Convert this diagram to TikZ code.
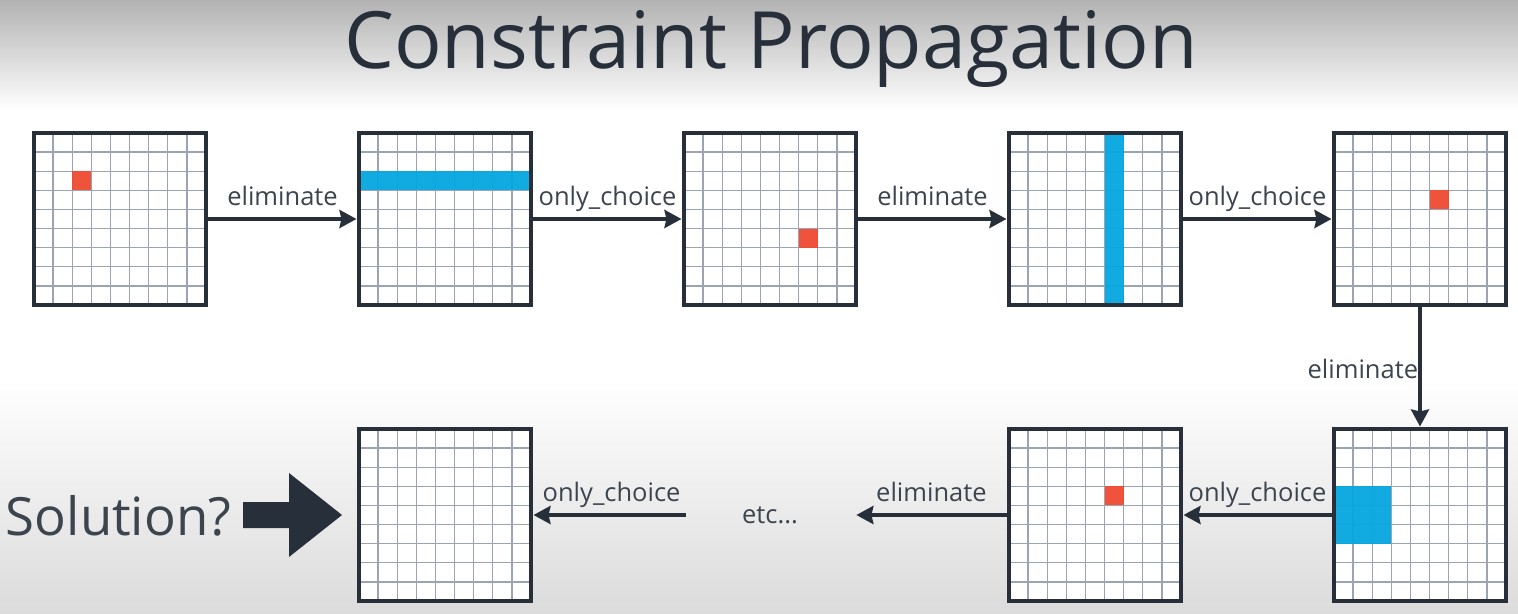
\documentclass[tikz,border=0pt]{standalone}
\usepackage{fontspec}
\setmainfont{Open Sans}
\usepackage{xcolor}
\usetikzlibrary{arrows.meta,positioning,calc}

\definecolor{ink}{HTML}{262F3A}
\definecolor{cellred}{HTML}{F0492F}
\definecolor{cellblue}{HTML}{04A6E0}
\definecolor{cellgrid}{HTML}{9AA4B2}

\newcommand{\cellsz}{0.3822cm}
% thin grid lines of one board
\newcommand{\boardlines}[1]{%
  \foreach \k in {1,...,8}{
    \draw[cellline] ($(#1.south west)+(\k*\cellsz,0)$) -- ($(#1.north west)+(\k*\cellsz,0)$);
    \draw[cellline] ($(#1.south west)+(0,\k*\cellsz)$) -- ($(#1.south east)+(0,\k*\cellsz)$);
  }}
% filled cells: board, column, row, width, height, colour
\newcommand{\hilite}[6]{%
  \fill[#6, fill opacity=0.94] ($(#1.north west)+(#2*\cellsz,-#3*\cellsz)$) rectangle ++(#4*\cellsz,-#5*\cellsz);}

\begin{document}
\begin{tikzpicture}[
  node distance=2.48cm and 3.06cm,
  board/.style={rectangle, fill=white, minimum size=3.44cm,
                inner sep=0pt, outer sep=0pt},
  cellline/.style={cellgrid, line width=0.8pt},
  frame/.style={ink, line width=2.3pt},
  arr/.style={-{Stealth[length=0.34cm, width=0.36cm, inset=0.04cm]},
              ink, line width=2.2pt, shorten >=0.05cm},
  lbl/.style={font=\fontsize{14.5}{17}\selectfont, text=ink!90,
              anchor=base, inner sep=0pt, yshift=0.27cm}
]

% background
\useasboundingbox (0,0) rectangle (30.36,-12.26);
\shade[top color=black!30, bottom color=white] (0,0) rectangle (30.36,-2.2);
\fill[white] (0,-2.2) rectangle (30.36,-7.6);
\shade[top color=white, bottom color=black!14] (0,-7.6) rectangle (30.36,-12.26);

\node[font=\fontsize{45}{50}\selectfont, text=ink, anchor=base, inner sep=0pt]
  (title) at (15.42,-1.36) {Constraint Propagation};

% boards
\node[board] (g1) at (2.4,-4.38) {};
\node[board, right=of g1] (g2) {};
\node[board, right=of g2] (g3) {};
\node[board, right=of g3] (g4) {};
\node[board, right=of g4] (g5) {};
\node[board, below=of g5] (g6) {};
\node[board, left=of g6]  (g7) {};
\node[board, below=of g2] (g8) {};
\node[font=\fontsize{14.5}{17}\selectfont, text=ink!90, minimum width=3.34cm,
      inner sep=0pt] (etc) at ($(g8.east)!0.5!(g7.west)$) {etc...};

\foreach \g in {g1,g2,g3,g4,g5,g6,g7,g8}{\boardlines{\g}}

\hilite{g1}{2}{2}{1}{1}{cellred}
\hilite{g2}{0}{2}{9}{1}{cellblue}
\hilite{g3}{6}{5}{1}{1}{cellred}
\hilite{g4}{5}{0}{1}{9}{cellblue}
\hilite{g5}{5}{3}{1}{1}{cellred}
\hilite{g6}{0}{3}{3}{3}{cellblue}
\hilite{g7}{5}{3}{1}{1}{cellred}

\foreach \g in {g1,g2,g3,g4,g5,g6,g7,g8}{
  \draw[frame] (\g.south west) rectangle (\g.north east);}

% steps
\draw[arr] (g1) -- node[lbl]{eliminate} (g2);
\draw[arr] (g2) -- node[lbl]{only\_choice} (g3);
\draw[arr] (g3) -- node[lbl]{eliminate} (g4);
\draw[arr] (g4) -- node[lbl]{only\_choice} (g5);
\draw[arr] (g5) -- node[lbl, anchor=base east, yshift=-0.5cm]{eliminate} (g6);
\draw[arr] (g6) -- node[lbl]{only\_choice} (g7);
\draw[arr] (g7) -- node[lbl]{eliminate} (etc);
\draw[arr] (etc) -- node[lbl, xshift=0.06cm]{only\_choice} (g8);

% solution
\node[font=\fontsize{30}{34}\selectfont, text=ink!90, anchor=base, inner sep=0pt]
  (sol) at (2.37,-10.70) {Solution?};
\coordinate (fat) at (4.86,-10.3);
\fill[ink] ($(fat)+(0,0.26)$) -- ++(0.92,0) -- ++(0,0.58) -- ($(fat)+(1.98,0)$)
  -- ($(fat)+(0.92,-0.84)$) -- ++(0,0.58) -- ($(fat)+(0,-0.26)$) -- cycle;

\end{tikzpicture}
\end{document}
